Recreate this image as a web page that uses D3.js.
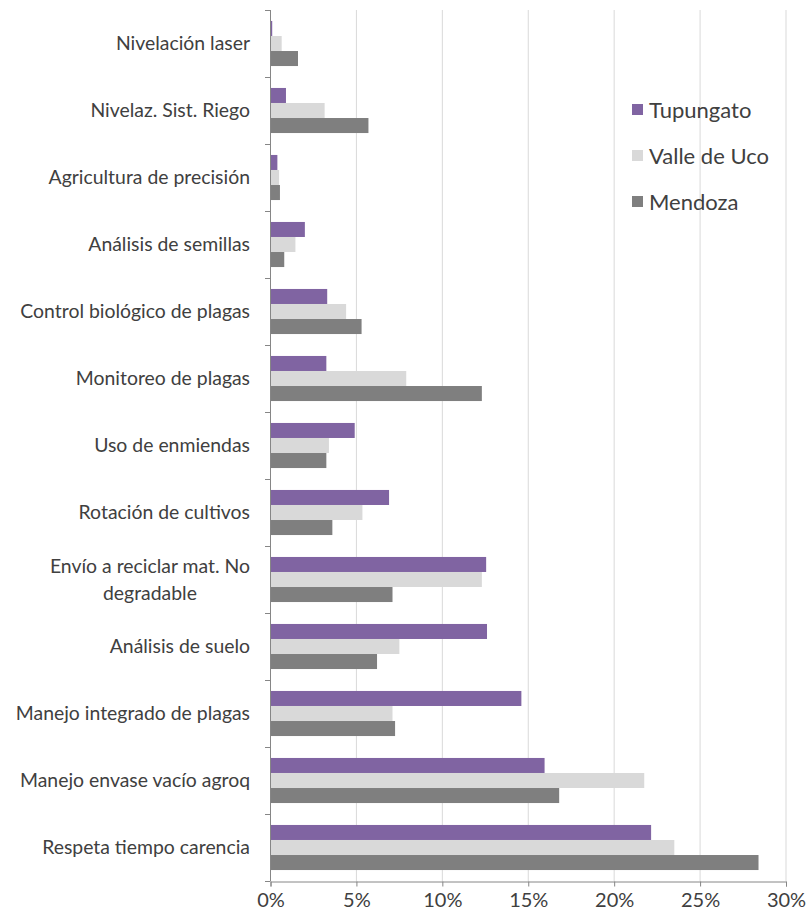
<!DOCTYPE html>
<html>
<head>
<meta charset="utf-8">
<script src="https://cdn.jsdelivr.net/npm/d3@7"></script>
<style>
  body { margin: 0; background: #fff; }
  svg text { font-family: Lato, "Open Sans", sans-serif; fill: #404040; }
</style>
</head>
<body>
<div id="chart"></div>
<script>
// categories, top to bottom
const categories = [
    "Nivelación laser",
    "Nivelaz. Sist. Riego",
    "Agricultura de precisión",
    "Análisis de semillas",
    "Control biológico de plagas",
    "Monitoreo de plagas",
    "Uso de enmiendas",
    "Rotación de cultivos",
    "Envío a reciclar mat. No degradable",
    "Análisis de suelo",
    "Manejo integrado de plagas",
    "Manejo envase vacío agroq",
    "Respeta tiempo carencia"
];

const seriesNames = ["Tupungato", "Valle de Uco", "Mendoza"];

// values in %
const tupungato = [0.1, 0.9, 0.4, 2.0, 3.3, 3.25, 4.9, 6.9, 12.55, 12.6, 14.6, 15.95, 22.15];
const valleDeUco = [0.65, 3.15, 0.5, 1.45, 4.4, 7.9, 3.4, 5.35, 12.3, 7.5, 7.1, 21.75, 23.5];
const mendoza = [1.6, 5.7, 0.55, 0.8, 5.3, 12.3, 3.25, 3.6, 7.1, 6.2, 7.25, 16.8, 28.4];

const xTicks = [0, 5, 10, 15, 20, 25, 30];

const colors = { "Tupungato": "#8064a2", "Valle de Uco": "#d9d9d9", "Mendoza": "#7f7f7f" };

const seriesValues = { "Tupungato": tupungato, "Valle de Uco": valleDeUco, "Mendoza": mendoza };

const width = 806, height = 920;
const margin = { top: 10, right: 20, bottom: 39, left: 270 };

const svg = d3.select("#chart").append("svg")
    .attr("width", width)
    .attr("height", height);

const x = d3.scaleLinear()
    .domain([0, 30])
    .range([margin.left + 0.5, width - margin.right]);

const y0 = d3.scaleBand()
    .domain(categories)
    .range([margin.top, height - margin.bottom]);

const y1 = d3.scaleBand()
    .domain(seriesNames)
    .range([0, y0.bandwidth()])
    .paddingOuter(0.73);

// gridlines
svg.append("g").selectAll("line")
    .data(xTicks.slice(1))
    .enter().append("line")
    .attr("x1", d => x(d)).attr("x2", d => x(d))
    .attr("y1", margin.top).attr("y2", height - margin.bottom)
    .attr("stroke", "#d9d9d9")
    .attr("stroke-width", 1);

// bars
const rows = categories.map((c, i) => ({
    cat: c,
    vals: seriesNames.map(s => ({ s: s, v: seriesValues[s][i] }))
}));

const group = svg.append("g").selectAll("g")
    .data(rows)
    .enter().append("g")
    .attr("transform", d => "translate(0," + y0(d.cat) + ")");

group.selectAll("rect")
    .data(d => d.vals)
    .enter().append("rect")
    .attr("x", x(0))
    .attr("y", d => y1(d.s))
    .attr("width", d => x(d.v) - x(0))
    .attr("height", y1.bandwidth())
    .attr("fill", d => colors[d.s]);

// y axis line and boundary ticks
const axisColor = "#868686";
const yBottom = height - margin.bottom;
svg.append("line")
    .attr("x1", margin.left + 0.5).attr("x2", margin.left + 0.5)
    .attr("y1", margin.top).attr("y2", yBottom)
    .attr("stroke", axisColor);

const boundaries = categories.map(c => y0(c)).concat([yBottom]);
svg.append("g").selectAll("line")
    .data(boundaries)
    .enter().append("line")
    .attr("x1", margin.left - 5).attr("x2", margin.left + 0.5)
    .attr("y1", d => Math.round(d) + 0.5).attr("y2", d => Math.round(d) + 0.5)
    .attr("stroke", axisColor);

// x axis
const xAxis = svg.append("g")
    .attr("transform", "translate(0," + (yBottom + 0.5) + ")")
    .call(d3.axisBottom(x).tickValues(xTicks).tickSize(5).tickFormat(d => d + "%"));
xAxis.select(".domain").attr("stroke", axisColor);
xAxis.selectAll(".tick line").attr("stroke", axisColor);
xAxis.selectAll(".tick text")
    .attr("dy", "0.85em")
    .style("font-size", "20px")
    .attr("fill", "#404040");

// category labels, wrapped when too long
const labelX = 250;
const labels = svg.append("g").selectAll("text")
    .data(categories)
    .enter().append("text")
    .style("font-size", "19.4px")
    .attr("text-anchor", "end")
    .attr("x", labelX)
    .attr("y", d => y0(d) + y0.bandwidth() / 2)
    .attr("dy", "0.35em")
    .text(d => d);

labels.each(function (d) {
    const t = d3.select(this);
    if (this.getComputedTextLength() < 260) return;
    const words = d.split(" ");
    const lines = [];
    let line = [];
    t.text(null);
    const probe = t.append("tspan");
    words.forEach(w => {
        line.push(w);
        probe.text(line.join(" "));
        if (probe.node().getComputedTextLength() > 245 && line.length > 1) {
            line.pop();
            lines.push(line.join(" "));
            line = [w];
        }
    });
    lines.push(line.join(" "));
    probe.remove();
    const widths = lines.map(l => { const s = t.append("tspan").text(l); const w = s.node().getComputedTextLength(); s.remove(); return w; });
    const cx = labelX - d3.max(widths) / 2;
    const cy = y0(d) + y0.bandwidth() / 2;
    const lh = 27;
    t.attr("text-anchor", "middle");
    lines.forEach((l, i) => {
        t.append("tspan")
            .attr("x", cx)
            .attr("y", cy + (i - (lines.length - 1) / 2) * lh)
            .attr("dy", "0.35em")
            .text(l);
    });
});

// legend
const legend = svg.append("g")
    .attr("transform", "translate(632,110)");
const li = legend.selectAll("g")
    .data(seriesNames)
    .enter().append("g")
    .attr("transform", (d, i) => "translate(0," + i * 46 + ")");
li.append("rect")
    .attr("x", 0).attr("y", -6)
    .attr("width", 11).attr("height", 11)
    .attr("fill", d => colors[d]);
li.append("text")
    .attr("x", 17).attr("y", 0)
    .attr("dy", "0.35em")
    .style("font-size", "22px")
    .text(d => d);
</script>
</body>
</html>
